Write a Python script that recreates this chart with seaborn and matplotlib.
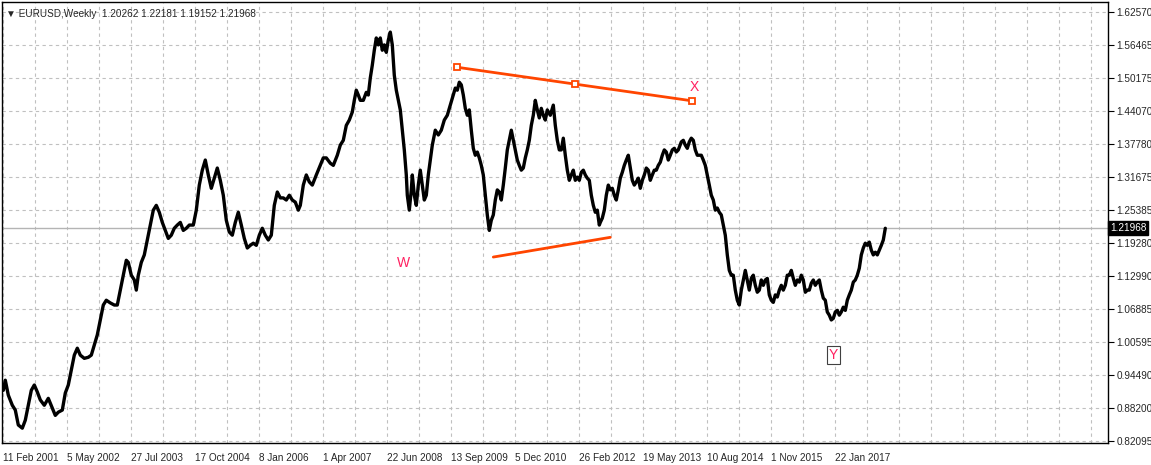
import matplotlib
matplotlib.use("Agg")
import matplotlib.pyplot as plt
import seaborn as sns
import pandas as pd

# week index (0 = 11 Feb 2001) and approximate weekly close
weeks = [0,2,5,9,12,15,19,22,25,28,31,34,37,41,45,49,52,55,59,62,65,68,71,74,77,81,85,88,91,94,97,100,103,107,111,114,117,120,123,125,128,131,133,135,138,141,144,147,150,153,156,159,162,165,168,171,174,177,180,183,186,190,193,196,199,202,205,208,211,214,217,220,223,226,229,232,235,238,241,244,247,250,253,256,259,262,265,268,271,274,277,280,283,286,289,292,295,297,300,303,306,309,313,317,320,323,327,330,334,337,340,343,346,349,351,353,355,357,360,363,365,367,369,371,373,375,377,379,381,383,385,387,389,391,393,395,397,399,401,403,404,406,408,409,411,413,415,417,419,421,423,425,427,429,432,435,438,441,444,447,450,452,454,456,458,460,462,464,466,468,470,472,474,476,478,480,482,484,486,488,490,492,494,496,498,500,502,504,506,508,510,512,514,516,518,520,522,524,526,528,530,532,534,536,538,540,542,544,547,550,552,554,556,558,560,562,564,566,568,570,572,574,576,578,580,582,584,586,588,590,592,594,596,597,599,601,603,605,607,609,611,613,615,617,619,621,623,625,627,629,631,633,635,637,639,641,643,645,647,649,651,653,655,657,659,661,663,665,667,669,671,673,675,678,680,682,684,686,688,690,692,694,696,698,700,702,704,706,708,710,712,714,716,718,720,722,724,726,728,730,732,734,736,738,740,742,744,746,748,750,752,754,756,758,760,762,764,766,768,770,772,774,776,778,780,782,784,786,788,790,792,794,796,798,800,802,804,806,808,810,812,814,816,818,820,822,824,826,828,830,832,834,836,838,840,842,844,846,848,850,852,854,856,858,860,862,864,866,868,870,872,874,876,878,880,882]
closes = [0.916,0.935,0.907,0.888,0.879,0.851,0.845,0.860,0.888,0.916,0.926,0.913,0.898,0.888,0.901,0.883,0.869,0.875,0.879,0.911,0.926,0.954,0.982,0.995,0.982,0.976,0.978,0.982,1.001,1.020,1.048,1.076,1.085,1.080,1.076,1.076,1.104,1.132,1.160,1.156,1.132,1.123,1.104,1.132,1.156,1.170,1.198,1.226,1.254,1.263,1.250,1.231,1.216,1.201,1.207,1.220,1.226,1.231,1.216,1.220,1.226,1.226,1.254,1.301,1.329,1.348,1.320,1.295,1.314,1.333,1.310,1.282,1.235,1.213,1.207,1.231,1.250,1.226,1.201,1.183,1.188,1.192,1.188,1.207,1.220,1.207,1.198,1.207,1.263,1.288,1.277,1.277,1.273,1.282,1.273,1.269,1.254,1.263,1.301,1.320,1.307,1.301,1.320,1.338,1.352,1.352,1.342,1.338,1.357,1.376,1.385,1.413,1.423,1.438,1.460,1.479,1.470,1.460,1.460,1.475,1.470,1.502,1.526,1.554,1.577,1.564,1.577,1.554,1.564,1.550,1.573,1.588,1.564,1.507,1.479,1.460,1.442,1.404,1.367,1.320,1.282,1.254,1.292,1.320,1.282,1.263,1.301,1.329,1.301,1.273,1.282,1.320,1.348,1.376,1.404,1.395,1.404,1.423,1.432,1.451,1.470,1.483,1.479,1.494,1.489,1.470,1.445,1.432,1.442,1.404,1.370,1.357,1.363,1.352,1.338,1.320,1.282,1.245,1.216,1.235,1.245,1.273,1.292,1.288,1.273,1.301,1.333,1.367,1.385,1.404,1.385,1.367,1.348,1.338,1.329,1.333,1.352,1.367,1.385,1.413,1.432,1.460,1.442,1.427,1.445,1.432,1.423,1.442,1.432,1.451,1.413,1.385,1.367,1.367,1.389,1.357,1.329,1.310,1.320,1.329,1.310,1.316,1.310,1.325,1.329,1.320,1.314,1.310,1.282,1.263,1.250,1.254,1.226,1.231,1.239,1.254,1.282,1.301,1.292,1.295,1.282,1.273,1.292,1.314,1.325,1.338,1.348,1.357,1.333,1.310,1.301,1.307,1.314,1.295,1.310,1.320,1.333,1.329,1.310,1.320,1.329,1.329,1.338,1.344,1.357,1.367,1.363,1.348,1.357,1.367,1.370,1.363,1.367,1.382,1.385,1.376,1.370,1.382,1.389,1.385,1.367,1.357,1.357,1.357,1.348,1.338,1.320,1.301,1.282,1.273,1.254,1.258,1.250,1.245,1.226,1.207,1.170,1.141,1.132,1.132,1.104,1.085,1.076,1.104,1.123,1.141,1.123,1.104,1.126,1.132,1.113,1.100,1.104,1.123,1.113,1.123,1.126,1.095,1.085,1.081,1.095,1.091,1.104,1.113,1.104,1.113,1.132,1.132,1.141,1.126,1.113,1.123,1.119,1.132,1.123,1.100,1.104,1.104,1.117,1.123,1.113,1.119,1.123,1.104,1.089,1.085,1.063,1.057,1.048,1.051,1.063,1.066,1.057,1.063,1.072,1.066,1.085,1.095,1.104,1.119,1.123,1.132,1.145,1.170,1.183,1.192,1.188,1.194,1.179,1.170,1.175,1.170,1.179,1.188,1.198,1.220]

ytick_labels = ["1.62570","1.56465","1.50175","1.44070","1.37780","1.31675","1.25385",
                "1.19280","1.12990","1.06885","1.00595","0.94490","0.88200","0.82095"]
xtick_weeks = [0,64,128,192,256,320,384,448,512,576,640,704,768,832]
xtick_labels = ["11 Feb 2001","5 May 2002","27 Jul 2003","17 Oct 2004","8 Jan 2006","1 Apr 2007",
                "22 Jun 2008","13 Sep 2009","5 Dec 2010","26 Feb 2012","19 May 2013","10 Aug 2014",
                "1 Nov 2015","22 Jan 2017"]
last_price = 1.21968
header = "EURUSD,Weekly  1.20262 1.22181 1.19152 1.21968"
upper_line_w = [454, 572, 689]
upper_line_p = [1.522, 1.490, 1.459]
lower_line_w = [490, 607]
lower_line_p = [1.166, 1.203]

sns.set_style("white")
plt.rcParams['font.family'] = ['Liberation Sans', 'DejaVu Sans']
FS = 7.2

fig = plt.figure(figsize=(11.51, 4.65), dpi=100)
W, H = 1151, 465
ax = fig.add_axes([2/W, (H-443)/H, 1106/W, 441/H])

top_p, bot_p = 1.62570, 0.82095
ppx = (top_p - bot_p) / 429
ax.set_ylim(bot_p - 2*ppx, top_p + 10*ppx)
ax.set_xlim(-1.3, 1104.7)
ytick_pos = [top_p - 33*k*ppx for k in range(len(ytick_labels))]

for k in range(0, 36):
    ax.axvline(32*k, color="#c0c0c0", lw=0.8, ls=(0, (3, 3)), zorder=0)
for yp in ytick_pos:
    ax.axhline(yp, color="#c0c0c0", lw=0.8, ls=(0, (3, 3)), zorder=0)
ax.axhline(last_price, color="#b4b4b4", lw=1.0, zorder=1)

df = pd.DataFrame({"w": weeks, "p": closes})
sns.lineplot(data=df, x="w", y="p", ax=ax, color="black", lw=2.4, zorder=3)

ax.plot(upper_line_w[::2], upper_line_p[::2], color="#FF4500", lw=2, zorder=4)
ax.plot(upper_line_w, upper_line_p, ls="none", marker="s", ms=4, mfc="white", mec="#FF4500", mew=1.3, zorder=5)
ax.plot(lower_line_w, lower_line_p, color="#FF4500", lw=2, zorder=4)

ax.text(400, 1.155, "W", color="#FF2060", fontsize=10, ha="center", va="center", zorder=6)
ax.text(691, 1.485, "X", color="#FF2060", fontsize=10, ha="center", va="center", zorder=6)
ax.text(830, 0.982, "Y", color="#FF2060", fontsize=10, ha="center", va="center", zorder=6,
        bbox=dict(boxstyle="square,pad=0.15", fc="white", ec="#404040", lw=0.8))

ax.set_xlabel(""); ax.set_ylabel("")
ax.yaxis.tick_right()
ax.set_yticks(ytick_pos)
ax.set_yticklabels(ytick_labels, fontsize=FS)
ax.set_xticks(xtick_weeks)
ax.set_xticklabels(xtick_labels, fontsize=FS, ha="left")
ax.tick_params(axis="both", length=4, width=0.8, color="black", pad=2, direction="out")
ax.tick_params(axis="x", pad=3)
for s in ax.spines.values():
    s.set_color("black"); s.set_linewidth(1)

ax.text(1.0 + 2/1106, last_price, "1.21968", transform=ax.get_yaxis_transform(),
        fontsize=FS, color="white", va="center", ha="left",
        bbox=dict(boxstyle="square,pad=0.2", fc="black", ec="black"), zorder=10, clip_on=False)
ax.text(0.004, 0.985, "\u25BC " + header, transform=ax.transAxes, fontsize=FS, va="top", ha="left")

fig.savefig("out.png", dpi=100)
